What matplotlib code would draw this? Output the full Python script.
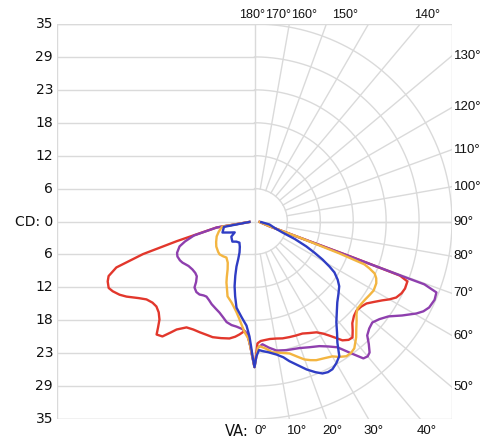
import numpy as np
import matplotlib
matplotlib.use("Agg")
import matplotlib.pyplot as plt

# Polar photometric curves: vertical angle (deg from nadir) and intensity (cd)
# left half of the chart
red_left_va = [85, 81, 77.5, 75.8, 73.7, 71.6, 69.5, 67.8, 65.5, 63.8, 61.5, 59.6, 56.5, 54.2, 51.5,
               49.1, 46.5, 44.1, 42.3, 40.9, 38.7, 37, 35.8, 32.7, 29.5, 26.4, 22.5, 19.9, 16, 12.1,
               9.5, 7.6, 5.2, 3.5, 2, 1, 0]
red_left_cd = [0.9, 6.8, 10.5, 14.2, 20.6, 25.8, 27.6, 28.1, 28.4, 28.0, 27.2, 26.3, 24.6, 23.6, 23.1,
               23.0, 23.4, 24.2, 25.4, 26.5, 26.1, 24.6, 23.6, 22.3, 22.0, 21.9, 21.8, 21.8, 21.5, 21.2,
               20.7, 20.2, 19.5, 20.2, 22.0, 23.8, 25.8]

purple_left_va = [85, 81, 77, 74, 71.6, 68, 65.6, 62.5, 60.3, 56, 52.3, 49, 46.5, 44, 42.3, 39.5, 37,
                  34.5, 32.6, 30, 27.4, 24, 21, 18, 15.5, 12.5, 9.7, 6.3, 3.5, 2, 1, 0]
purple_left_cd = [0.9, 6.8, 11.0, 12.8, 14.0, 14.8, 15.0, 14.9, 14.7, 14.1, 13.9, 13.9, 14.1, 14.9, 15.8,
                  16.2, 16.2, 15.9, 15.8, 16.1, 16.5, 16.9, 17.3, 17.9, 18.5, 18.8, 18.9, 19.2, 20.0,
                  22.0, 23.8, 25.8]

orange_left_va = [85, 81, 74, 68.5, 62, 56.7, 50, 46.7, 42, 37.9, 33, 29.4, 26.5, 24.7, 22, 19.8, 15.9,
                  13.5, 11.2, 9, 7.2, 5.1, 3, 2, 1, 0]
orange_left_cd = [0.9, 5.8, 6.6, 7.2, 7.7, 8.1, 8.4, 8.5, 8.3, 8.1, 8.7, 9.7, 11.0, 11.9, 13.0, 14.1, 14.9,
                  15.6, 16.4, 17.4, 18.4, 19.7, 20.8, 22.0, 23.8, 25.8]

blue_left_va = [85, 80, 71, 66, 61.2, 56.9, 52, 47.7, 42, 35.5, 30, 25.8, 23.5, 21.8, 19.5, 17.1, 14.5,
                11.8, 9.5, 7.7, 6, 4.4, 2.5, 1.5, 0.8, 0]
blue_left_cd = [0.9, 5.5, 6.0, 4.8, 4.0, 4.9, 5.1, 5.3, 4.8, 4.6, 5.2, 6.1, 7.2, 8.6, 10.2, 12.0, 13.7,
                15.6, 16.4, 17.1, 17.8, 18.5, 20.4, 22.3, 24.0, 25.8]

# right half of the chart
red_right_va = [0, 1.4, 3, 4.8, 7.5, 10.6, 13.5, 16.8, 20, 23.2, 26, 29.2, 31.5, 33.3, 35, 36.5, 38.5,
                40.2, 42, 43.9, 46.5, 48.9, 51.5, 53.8, 56, 58.3, 60, 61.8, 64, 66, 68.6, 69.6, 69.8,
                70.0, 70.4, 72.3, 85]
red_right_cd = [25.8, 21.6, 21.2, 21.1, 21.0, 21.1, 21.3, 21.4, 21.5, 21.6, 22.0, 22.5, 23.3, 24.2, 25.2,
                26.2, 26.8, 26.9, 26.0, 25.0, 24.3, 24.0, 24.2, 24.6, 25.5, 26.6, 27.6, 28.5, 29.0, 29.2,
                29.1, 27.5, 22.0, 17.9, 8.5, 2.8, 0.9]

purple_right_va = [0, 1.5, 3.7, 6.5, 9.7, 14, 19.5, 23.5, 27.5, 30.5, 33.4, 36.3, 38.5, 40, 41.3, 43,
                   44.7, 47, 49.4, 52, 54.7, 57.5, 60.4, 62, 63.8, 66.5, 68.7, 69.7, 69.7, 69.9, 70.4,
                   72.3, 85]
purple_right_cd = [25.8, 22.4, 21.8, 22.5, 23.2, 23.5, 23.8, 24.3, 24.9, 25.7, 26.7, 29.0, 31.0, 31.2,
                   30.9, 29.7, 28.4, 27.8, 27.5, 28.1, 29.1, 31.0, 33.0, 33.9, 34.5, 34.8, 34.6, 32.1,
                   27.4, 17.9, 8.5, 2.8, 0.9]

orange_right_va = [0, 1.5, 2.3, 5, 7.8, 11, 14.9, 17.5, 19.9, 22, 24, 27, 30, 32, 34.3, 36.3, 38.2,
                   41.3, 43.5, 45.9, 47.8, 49.8, 52.5, 54.9, 57.5, 59.9, 63.1, 65, 66.6, 67.8, 68.7,
                   69.4, 70.4, 72.3, 85]
orange_right_cd = [25.8, 22.4, 22.1, 22.6, 23.4, 23.7, 24.2, 25.1, 26.0, 26.5, 26.9, 27.2, 27.6, 28.3,
                   28.9, 28.9, 28.6, 27.3, 26.2, 25.2, 24.4, 23.9, 23.9, 24.0, 24.2, 24.4, 24.2, 23.8,
                   23.2, 22.0, 20.9, 16.1, 8.5, 2.8, 0.9]

blue_right_va = [0, 0.8, 2, 3.5, 6, 9.4, 12, 14, 17, 19.4, 22, 24.1, 26, 27.8, 30, 32.2, 34.4, 36.5,
                 39.1, 42.5, 45.7, 49, 52.6, 55, 57.5, 59, 60.8, 62.5, 64.3, 66.5, 68.6, 72, 78.7, 85]
blue_right_cd = [25.8, 23.9, 22.8, 23.0, 23.3, 23.9, 24.6, 25.5, 26.7, 27.8, 28.8, 29.5, 29.7, 29.6,
                 29.0, 28.2, 26.0, 24.6, 23.0, 21.6, 20.5, 19.7, 18.9, 18.0, 16.8, 15.5, 13.8, 12.0,
                 10.2, 7.8, 5.3, 3.8, 2.7, 1.2]

curves = [
    ("#e2372c", red_left_va, red_left_cd, red_right_va, red_right_cd),
    ("#8e3fae", purple_left_va, purple_left_cd, purple_right_va, purple_right_cd),
    ("#f3b541", orange_left_va, orange_left_cd, orange_right_va, orange_right_cd),
    ("#2f3dc4", blue_left_va, blue_left_cd, blue_right_va, blue_right_cd),
]

# radial scale labels (cd)
cd_max = 35
cd_ticks = [0, 6, 12, 18, 23, 29, 35]
n_rings = 6

right_angles = [130, 120, 110, 100, 90, 80, 70, 60, 50]
top_angles = [180, 170, 160, 150, 140]
top_label_x = [-0.5, 4.1, 8.7, 16.1, 30.6]
bottom_angles = [10, 20, 30, 40]
bottom_label_x = [7.6, 13.8, 21.1, 30.6]

grid_c = "#dadada"
text_c = "#111111"

fig = plt.figure(figsize=(4.86, 4.43), dpi=100)
ax = fig.add_axes([57 / 486, 24 / 443, 395 / 486, 395 / 443])
ax.set_xlim(-cd_max, cd_max)
ax.set_ylim(-cd_max, cd_max)
ax.set_aspect("equal")
ax.axis("off")

step = cd_max / n_rings

# left half: horizontal grid lines
for k in range(-n_rings, n_rings + 1):
    ax.plot([-cd_max, 0], [k * step, k * step], color=grid_c, lw=1, zorder=1)
ax.plot([0, 0], [-cd_max, cd_max], color=grid_c, lw=1, zorder=1)
ax.plot([0, cd_max], [0, 0], color=grid_c, lw=1, zorder=1)

# right half: polar rings and spokes
t = np.radians(np.linspace(0, 180, 200))
for k in range(1, n_rings + 1):
    r = k * step
    ax.plot(r * np.sin(t), -r * np.cos(t), color=grid_c, lw=1, zorder=1)
for a in range(10, 180, 10):
    th = np.radians(a)
    dx, dy = np.sin(th), -np.cos(th)
    s_end = min(cd_max / abs(dx), cd_max / abs(dy) if abs(dy) > 1e-9 else 1e9)
    ax.plot([step * dx, s_end * dx], [step * dy, s_end * dy], color=grid_c, lw=1, zorder=1)

# frame
ax.plot([-cd_max, cd_max, cd_max, -cd_max, -cd_max],
        [-cd_max, -cd_max, cd_max, cd_max, -cd_max], color=grid_c, lw=1, zorder=1)

# curves
for color, lva, lcd, rva, rcd in curves:
    lva = np.radians(lva)
    rva = np.radians(rva)
    x = np.concatenate([-np.array(lcd) * np.sin(lva), np.array(rcd) * np.sin(rva)])
    y = np.concatenate([-np.array(lcd) * np.cos(lva), -np.array(rcd) * np.cos(rva)])
    ax.plot(x, y, color=color, lw=1.7, zorder=3, solid_joinstyle="round")

fs_left = 10
fs = 9.5
afont = "Liberation Sans"
# left labels
for k in range(-n_rings, n_rings + 1):
    lab = str(cd_ticks[abs(k)])
    if k == 0:
        lab = "CD: 0"
    ax.text(-cd_max - 0.7, k * step, lab, ha="right", va="center", fontsize=fs_left, color=text_c)

# right labels
for a in right_angles:
    th = np.radians(a)
    yv = -cd_max * np.cos(th) / np.sin(th)
    ax.text(cd_max + 0.3, yv, f"{a}°", ha="left", va="center", fontsize=fs, color=text_c,
            family=afont, clip_on=False)

# top labels
for a, xv in zip(top_angles, top_label_x):
    ax.text(xv, cd_max + 0.5, f"{a}°", ha="center", va="bottom", fontsize=9.1, color=text_c, family=afont)

# bottom labels
ax.text(-1.0, -cd_max - 0.8, "VA:", ha="right", va="top", fontsize=fs_left + 0.5, color=text_c)
ax.text(0.0, -cd_max - 1.0, "0°", ha="left", va="top", fontsize=fs, color=text_c, family=afont)
for a, xv in zip(bottom_angles, bottom_label_x):
    ax.text(xv, -cd_max - 1.0, f"{a}°", ha="center", va="top", fontsize=fs, color=text_c, family=afont)

fig.savefig("out.png", dpi=100)
